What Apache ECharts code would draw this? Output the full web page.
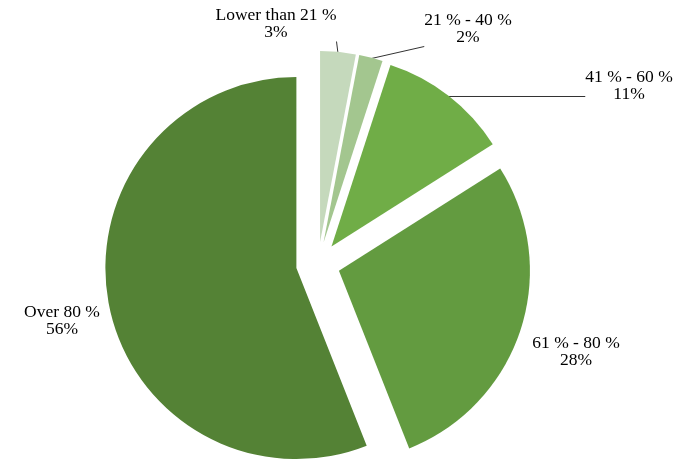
<!DOCTYPE html>
<html><head><meta charset="utf-8">
<script src="https://cdn.jsdelivr.net/npm/echarts@6/dist/echarts.min.js"></script>
<style>html,body{margin:0;padding:0;background:#fff}#c{width:688px;height:463px}</style>
</head><body><div id="c"></div>
<script>
const categories = ['Lower than 21 %', '21 % - 40 %', '41 % - 60 %', '61 % - 80 %', 'Over 80 %'];
const shares = [3, 2, 11, 28, 56];

// styling / layout (not data)
const colors = ['#c5d9bc', '#a3c68f', '#70ad47', '#639b40', '#548235'];
const labelPos = [[276, 24], [468, 29], [629, 86], [576, 352], [62, 321]];
const lineEnd = [[1, 1], [-1, 1], [-1, 0.6], null, null];
const CX = 318, CY = 264, R = 191, OFF = 22;

const total = shares.reduce((a, b) => a + b, 0);
let acc = 0;
const mids = shares.map(v => { const m = (acc + v / 2) / total * 2 * Math.PI; acc += v; return m; });

const labelStyle = {
  fontFamily: 'Liberation Serif',
  fontSize: 17.5,
  lineHeight: 17,
  color: '#000',
  align: 'center'
};

// one pie series per exploded slice; each shows only its own slice
const series = categories.map((cat, k) => {
  const cx = CX + Math.sin(mids[k]) * OFF;
  const cy = CY - Math.cos(mids[k]) * OFF;
  return {
    type: 'pie',
    center: [cx, cy],
    radius: [0, R],
    startAngle: 90,
    clockwise: true,
    avoidLabelOverlap: false,
    percentPrecision: 0,
    emphasis: {disabled: true},
    data: categories.map((c, i) => i === k ? {
      name: c, value: shares[i],
      itemStyle: {color: colors[i]},
      label: Object.assign({show: true, position: 'outside', formatter: '{b}\n{d}%'}, labelStyle),
      labelLine: {show: !!lineEnd[i], lineStyle: {color: '#333', width: 1}}
    } : {
      name: c, value: shares[i],
      itemStyle: {color: 'rgba(0,0,0,0)'},
      label: {show: false}, labelLine: {show: false}
    }),
    itemStyle: {borderWidth: 0},
    labelLayout: function (p) {
      const i = p.dataIndex;
      if (i !== k) return {};
      const [x, y] = labelPos[i];
      const w = p.labelRect.width, h = p.labelRect.height;
      const out = {x: x, y: y, align: 'center', verticalAlign: 'middle'};
      if (lineEnd[i]) {
        const a = mids[i];
        const sx = cx + Math.sin(a) * (R - 1);
        const sy = cy - Math.cos(a) * (R - 1);
        const ex = x + lineEnd[i][0] * w / 2;
        const ey = y + lineEnd[i][1] * h / 2;
        out.labelLinePoints = [[sx, sy], [ex, ey], [ex, ey]];
      }
      return out;
    }
  };
});

const chart = echarts.init(document.getElementById('c'), null, {renderer: 'canvas'});
chart.setOption({animation: false, backgroundColor: '#fff', series: series});
</script>
</body></html>
